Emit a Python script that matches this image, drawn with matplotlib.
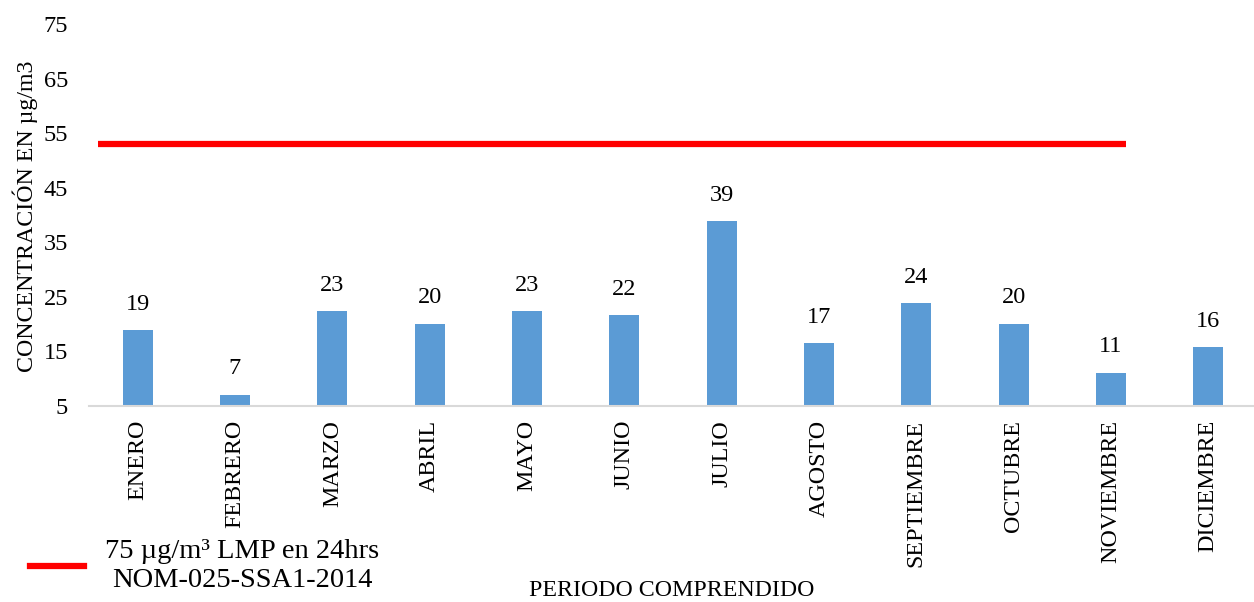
import matplotlib.pyplot as plt
from matplotlib.lines import Line2D

plt.rcParams['font.family'] = ['Liberation Serif', 'DejaVu Serif']

# data
meses = ['ENERO', 'FEBRERO', 'MARZO', 'ABRIL', 'MAYO', 'JUNIO', 'JULIO',
         'AGOSTO', 'SEPTIEMBRE', 'OCTUBRE', 'NOVIEMBRE', 'DICIEMBRE']
concentracion = [18.9, 7.1, 22.4, 20.1, 22.4, 21.6, 38.9, 16.5, 23.9, 20.1, 11.1, 15.8]
etiquetas = ['19', '7', '23', '20', '23', '22', '39', '17', '24', '20', '11', '16']
limite = 53.0
limite_x = [-0.41, 10.15]
y_ticks = [5, 15, 25, 35, 45, 55, 65, 75]

fig = plt.figure(figsize=(12.54, 6.02), dpi=100)
ax = fig.add_axes([89 / 1254, 196 / 602, 1165 / 1254, 382 / 602])

x = range(len(meses))
ax.bar(x, [c - 5 for c in concentracion], bottom=5, width=0.31,
       color='#5B9BD5', zorder=2)

# value labels above bars
for xi, c, lab in zip(x, concentracion, etiquetas):
    ax.annotate(lab, (xi, c), xytext=(0, 11), textcoords='offset points',
                ha='center', va='bottom', fontsize=17.5)

# limit line
ax.plot(limite_x, [limite, limite], color='#FF0000', lw=4.5, solid_capstyle='butt', zorder=3)

ax.set_xlim(-0.5, 11.47)
ax.set_ylim(5, 75)
ax.set_yticks(y_ticks)
ax.set_yticklabels([str(t) for t in y_ticks], fontsize=17.5)
ax.set_xticks(list(x))
ax.set_xticklabels(meses, rotation=90, fontsize=17.3)
ax.tick_params(axis='both', length=0)
ax.tick_params(axis='y', pad=15)
ax.tick_params(axis='x', pad=10)

for s in ['top', 'right', 'left']:
    ax.spines[s].set_visible(False)
ax.spines['bottom'].set_color('#D9D9D9')
ax.spines['bottom'].set_linewidth(1.5)

# axis titles
fig.text(25 / 1254, 1 - 216 / 602, 'CONCENTRACIÓN EN µg/m3', rotation=90,
         ha='center', va='center', fontsize=17.2)
fig.text(672 / 1254, 1 - 590 / 602, 'PERIODO COMPRENDIDO', ha='center',
         va='center', fontsize=17.2)

# legend
h = Line2D([0], [0], color='#FF0000', lw=4.5)
leg = fig.legend([h], ['75 µg/m³ LMP en 24hrs\nNOM-025-SSA1-2014'],
                 loc='center left', bbox_to_anchor=(10 / 1254, 1 - 566 / 602),
                 frameon=False, fontsize=20.5, handlelength=1.9, handletextpad=0.75,
                 borderpad=0.2)
for t in leg.get_texts():
    t.set_multialignment('center')

fig.savefig('out.png', dpi=100)
